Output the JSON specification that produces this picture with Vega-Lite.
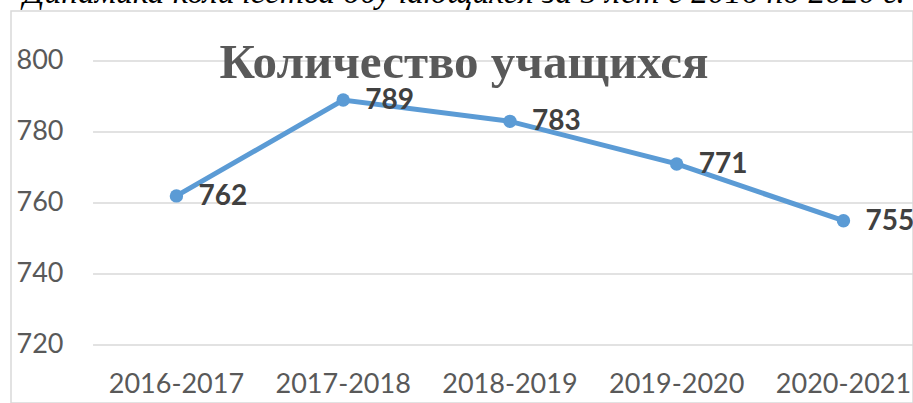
{
  "$schema": "https://vega.github.io/schema/vega-lite/v6.json",
  "width": 902,
  "height": 392,
  "autosize": {"type": "none"},
  "padding": {"left": 11, "top": 11, "right": 0, "bottom": 0},
  "background": "white",
  "config": {"view": {"stroke": "#d9d9d9", "strokeWidth": 1.5}},
  "title": {
    "text": "Динамика количества обучающихся за 5 лет с 2016 по 2020 г.",
    "subtitle": "Количество учащихся",
    "anchor": "middle",
    "frame": "group",
    "orient": "top",
    "offset": -78,
    "dx": 2,
    "font": "Liberation Serif",
    "fontSize": 33.5,
    "fontStyle": "italic",
    "fontWeight": "normal",
    "color": "black",
    "subtitleFont": "Liberation Serif",
    "subtitleFontSize": 49,
    "subtitleFontWeight": "bold",
    "subtitleColor": "#595959",
    "subtitlePadding": 29
  },
  "datasets": {
    "main": [
      {"period": "2016-2017", "i": 0, "count": 762},
      {"period": "2017-2018", "i": 1, "count": 789},
      {"period": "2018-2019", "i": 2, "count": 783},
      {"period": "2019-2020", "i": 3, "count": 771},
      {"period": "2020-2021", "i": 4, "count": 755}
    ],
    "grid": [{"v": 720}, {"v": 740}, {"v": 760}, {"v": 780}, {"v": 800}]
  },
  "layer": [
    {
      "data": {"name": "grid"},
      "mark": {"type": "rule", "color": "#d9d9d9", "strokeWidth": 1.5, "clip": true},
      "encoding": {
        "x": {"datum": -0.5, "type": "quantitative", "scale": {"domain": [-0.992, 4.417], "nice": false, "zero": false}, "axis": null},
        "x2": {"datum": 4.5},
        "y": {
          "field": "v", "type": "quantitative",
          "scale": {"domain": [703.66, 814.08], "nice": false, "zero": false},
          "axis": {
            "title": null, "values": [720, 740, 760, 780, 800], "grid": false, "domain": false,
            "ticks": false, "tickSize": 0, "labelAlign": "right", "labelPadding": -52,
            "labelFont": "Lato", "labelFontSize": 27, "labelColor": "#595959"
          }
        }
      }
    },
    {
      "data": {"name": "main"},
      "mark": {"type": "line", "color": "#5B9BD5", "strokeWidth": 5, "point": {"filled": true, "size": 180, "color": "#5B9BD5", "opacity": 1}},
      "encoding": {
        "x": {"field": "i", "type": "quantitative"},
        "y": {"field": "count", "type": "quantitative"}
      }
    },
    {
      "data": {"name": "main"},
      "mark": {"type": "text", "align": "left", "baseline": "middle", "dx": 22, "dy": 1, "font": "Lato", "fontWeight": "bold", "fontSize": 28, "color": "#404040"},
      "encoding": {
        "x": {"field": "i", "type": "quantitative"},
        "y": {"field": "count", "type": "quantitative"},
        "text": {"field": "count"}
      }
    },
    {
      "data": {"name": "main"},
      "mark": {"type": "text", "align": "center", "baseline": "alphabetic", "font": "Lato", "fontSize": 27, "color": "#595959"},
      "encoding": {
        "x": {"field": "i", "type": "quantitative"},
        "y": {"datum": 706.4, "type": "quantitative"},
        "text": {"field": "period"}
      }
    }
  ]
}
